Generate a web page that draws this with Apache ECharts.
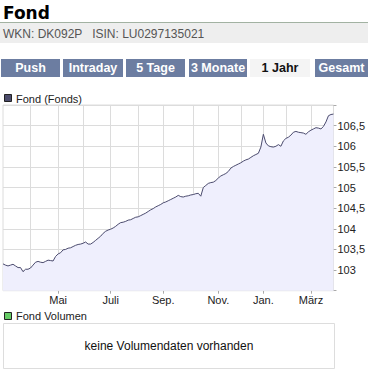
<!DOCTYPE html>
<html>
<head>
<meta charset="utf-8">
<script src="https://cdn.jsdelivr.net/npm/echarts@6/dist/echarts.min.js"></script>
<style>
html,body{margin:0;padding:0;background:#fff;}
#c{width:368px;height:372px;}
</style>
</head>
<body>
<div id="c"></div>
<script>
// month keys (one per calendar month shown) and their axis labels
const monthKeys = ['2010-03','2010-04','2010-05','2010-06','2010-07','2010-08','2010-09','2010-10','2010-11','2010-12','2011-01','2011-02','2011-03'];
const monthLabels = ['', '', 'Mai', '', 'Juli', '', 'Sep.', '', 'Nov.', '', 'Jan.', '', 'März'];

// fund prices, sampled within each month
const valMar0 = [103.15,103.12,103.10,103.12,103.14,103.10,103.06,103.06,102.96,103.02,103.02];
const valApr  = [103.05,103.12,103.19,103.21,103.19,103.18,103.21,103.24,103.23,103.22,103.33];
const valMay  = [103.39,103.42,103.49,103.50,103.53,103.54,103.57,103.60,103.62,103.63];
const valJun  = [103.65,103.68,103.63,103.63,103.67,103.72,103.77,103.82,103.89,103.94,103.97];
const valJul  = [103.99,104.02,104.06,104.11,104.15,104.16,104.18,104.21,104.22,104.25,104.28];
const valAug  = [104.29,104.32,104.35,104.38,104.42,104.46,104.49,104.53,104.56,104.59];
const valSep  = [104.63,104.65,104.68,104.71,104.74,104.77,104.81,104.78,104.77,104.79,104.80,104.82];
const valOct  = [104.83,104.85,104.86,104.79,105.00,105.05,105.10,105.12,105.13,105.17];
const valNov  = [105.23,105.28,105.31,105.34,105.39,105.47,105.51,105.54,105.57];
const valDec  = [105.60,105.64,105.67,105.69,105.73,105.77,105.80,105.83,105.98];
const valJan  = [106.29,106.08,106.01,105.99,105.98,106.00,106.04,106.00,106.13];
const valFeb  = [106.19,106.22,106.27,106.34,106.36,106.34,106.33,106.32,106.29,106.35];
const valMar1 = [106.39,106.42,106.45,106.44,106.42,106.48,106.59,106.74,106.77,106.78];

const yTicks = [103, 103.5, 104, 104.5, 105, 105.5, 106, 106.5];

const tabNames = ['Push','Intraday','5 Tage','3 Monate','1 Jahr','Gesamt'];
const activeTab = '1 Jahr';

const monthVals = [valMar0,valApr,valMay,valJun,valJul,valAug,valSep,valOct,valNov,valDec,valJan,valFeb,valMar1];
const cats = [], vals = [], catMonth = {}, catFirst = {};
monthVals.forEach((arr, m) => {
  arr.forEach((v, k) => {
    const key = monthKeys[m] + '/' + (k + 1);
    cats.push(key); vals.push(v);
    catMonth[key] = m; catFirst[key] = (k === 0 && m > 0);
  });
});

const FONT = "'Liberation Sans', Arial, sans-serif";
const tabGeo = [[1,59],[63,60],[126,59],[189,58],[250,60],[315,53]];

const graphics = [];
graphics.push({type:'text', left:3, top:4, style:{text:'Fond', font:"bold 17px 'DejaVu Sans', sans-serif", fill:'#000'}});
graphics.push({type:'rect', shape:{x:0,y:22,width:368,height:21}, style:{fill:'#eeeeee'}});
graphics.push({type:'line', shape:{x1:0,y1:22.5,x2:368,y2:22.5}, style:{stroke:'#a2b2a2', lineWidth:1}});
graphics.push({type:'text', style:{x:3, y:33.5, text:'WKN: DK092P   ISIN: LU0297135021', font:'12px ' + FONT, fill:'#555', textVerticalAlign:'middle'}});
tabNames.forEach((t, i) => {
  const [x, w] = tabGeo[i];
  const active = t === activeTab;
  graphics.push({type:'rect', shape:{x:x,y:59,width:w,height:18}, style:{fill: active ? '#f4f4f4' : '#6c7da1'}});
  graphics.push({type:'text', style:{x:x + w/2, y:68, text:t, font:'bold 12.5px ' + FONT, fill: active ? '#111' : '#fff', textAlign:'center', textVerticalAlign:'middle'}});
});
// legend fund
graphics.push({type:'rect', shape:{x:4.5,y:94.5,width:7,height:7}, style:{fill:'#4c4c6c', stroke:'#222', lineWidth:1}});
graphics.push({type:'text', style:{x:16, y:98.5, text:'Fond (Fonds)', font:'11px ' + FONT, fill:'#222', textVerticalAlign:'middle'}});
// legend volume
graphics.push({type:'rect', shape:{x:4.5,y:312.5,width:7,height:7}, style:{fill:'#66cc66', stroke:'#222', lineWidth:1}});
graphics.push({type:'text', style:{x:16, y:316, text:'Fond Volumen', font:'11px ' + FONT, fill:'#222', textVerticalAlign:'middle'}});
graphics.push({type:'rect', shape:{x:3.5,y:323.5,width:331,height:45}, style:{fill:'#fff', stroke:'#dddddd', lineWidth:1}});
graphics.push({type:'text', style:{x:169, y:346, text:'keine Volumendaten vorhanden', font:'12px ' + FONT, fill:'#111', textAlign:'center', textVerticalAlign:'middle'}});

const chart = echarts.init(document.getElementById('c'), null, {renderer:'svg'});
chart.setOption({
  animation: false,
  backgroundColor: '#fff',
  grid: {left:3, top:105, width:331, height:185.7, show:true, borderColor:'#dcdcdc', borderWidth:1, backgroundColor:'#fff', containLabel:false},
  xAxis: {
    type:'category', data:cats, boundaryGap:false,
    axisLine:{show:false},
    axisTick:{show:true, length:3, lineStyle:{color:'#aaa'}, interval:(i, v) => catFirst[v] && monthLabels[catMonth[v]] !== ''},
    axisLabel:{interval:(i, v) => catFirst[v] && monthLabels[catMonth[v]] !== '', formatter:(v) => monthLabels[catMonth[v]], fontSize:11, fontFamily:FONT, color:'#222', margin:4},
    splitLine:{show:true, interval:(i, v) => catFirst[v], lineStyle:{color:'#dcdcdc', width:1}}
  },
  yAxis: {
    type:'value', position:'right', min:102.5, max:107, interval:0.5,
    axisLine:{show:false},
    axisTick:{show:true, length:3, lineStyle:{color:'#aaa'}},
    axisLabel:{fontSize:11, fontFamily:FONT, color:'#222', margin:4, padding:[3,0,0,0],
      formatter:(v) => yTicks.some(t => Math.abs(t - v) < 1e-6) ? String(v).replace('.', ',') : ''},
    splitLine:{show:true, lineStyle:{color:'#dcdcdc', width:1}}
  },
  series: [{
    type:'line', data:vals, showSymbol:false, symbol:'none',
    lineStyle:{color:'#4b4b6e', width:1},
    areaStyle:{color:'#efeffd', opacity:1},
    silent:true
  }],
  graphic: graphics
});
</script>
</body>
</html>
